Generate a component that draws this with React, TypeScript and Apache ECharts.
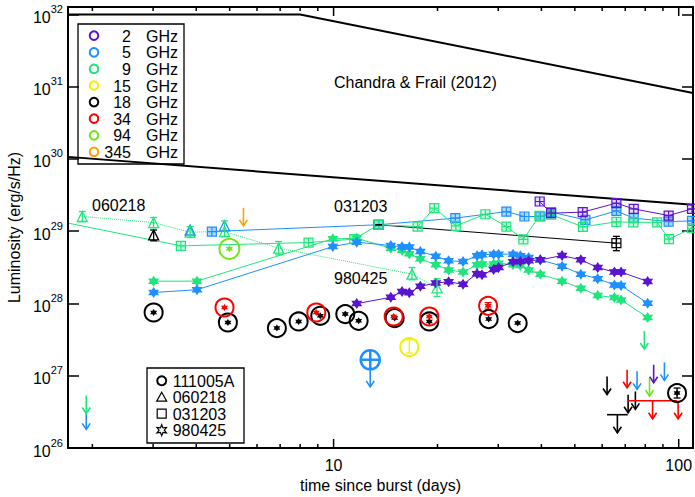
import { useEffect, useRef } from 'react';
import * as echarts from 'echarts';

const FONT = '"Liberation Sans", Arial, Helvetica, sans-serif';

// ---------- colours per frequency ----------
const freqLabels = ['2', '5', '9', '15', '18', '34', '94', '345'];
const freqColors = ['#5a14d0', '#1e90ff', '#1fe67c', '#f0f000', '#000000', '#ff0000', '#72e41a', '#ffa000'];
const [C2, C5, C9, C15, C18, C34, C94, C345] = freqColors;
const eventNames = ['111005A', '060218', '031203', '980425'];

// ---------- axes ----------
const X_MIN = 1.7, X_MAX = 110, Y_MIN = 1e26, Y_MAX = 1.27e32;
const xMajorTicks = [10, 100];
const xMinorTicks = [2, 3, 4, 5, 6, 7, 8, 9, 20, 30, 40, 50, 60, 70, 80, 90];
const xLabels = [10, 100];
const yTicks = [1e26, 1e27, 1e28, 1e29, 1e30, 1e31, 1e32];

// ---------- Chandra & Frail (2012) envelope ----------
const cfUpperT = [1.7, 8.0, 110];
const cfUpperL = [1e32, 1e32, 8.2e30];
const cfLowerT = [1.7, 110];
const cfLowerL = [1.07e30, 2.32e29];

// ---------- 980425 (stars) ----------
const t980425 = [3.01, 4.02, 9.95, 11.67, 14.65, 15.79, 16.57, 17.84, 19.78, 21.54, 23.72, 26.04, 26.92, 29.09, 30.07, 33.11, 34.77, 36.74, 39.72, 45.92, 52.06, 58.25, 65.11, 68.08, 81.29];
const L980425_5GHz = [1.42e28, 1.55e28, 6.14e28, 7.07e28, 6.34e28, 6.08e28, 6.03e28, 5.24e28, 4.52e28, 3.90e28, 3.81e28, 4.57e28, 4.72e28, 4.82e28, 4.82e28, 4.82e28, 4.57e28, 4.33e28, 4.02e28, 3.29e28, 2.55e28, 2.20e28, 1.81e28, 1.77e28, 1.01e28];
const L980425_9GHz = [2.04e28, 2.04e28, 7.85e28, 7.97e28, 5.84e28, 5.41e28, 4.87e28, 4.15e28, 3.43e28, 2.92e28, 2.72e28, 3.43e28, 3.51e28, 3.53e28, 3.62e28, 3.43e28, 3.35e28, 2.92e28, 2.55e28, 2.04e28, 1.63e28, 1.29e28, 1.21e28, 1.12e28, 6.40e27];
const t980425_2GHz = [11.67, 14.65, 15.79, 16.57, 17.84, 19.78, 21.54, 23.72, 26.04, 26.92, 29.09, 30.07, 33.11, 34.77, 36.74, 39.72, 45.92, 52.06, 58.25, 65.11, 68.08, 81.29];
const L980425_2GHz = [9.97e27, 1.22e28, 1.47e28, 1.41e28, 1.73e28, 1.92e28, 2.00e28, 1.84e28, 2.59e28, 2.49e28, 2.95e28, 3.14e28, 3.77e28, 3.81e28, 3.90e28, 4.02e28, 4.61e28, 4.02e28, 3.15e28, 2.72e28, 2.72e28, 2.02e28];

// ---------- 031203 (squares) ----------
const t031203_5GHz = [4.44, 13.5, 22.53, 31.67, 35.72, 39.72, 42.67, 53.65, 65.98, 74.07, 93.5, 109.3];
const L031203_5GHz = [9.91e28, 1.23e29, 1.52e29, 1.87e29, 1.60e29, 1.60e29, 1.84e29, 1.44e29, 1.91e29, 1.52e29, 1.36e29, 1.39e29];
// first 9 GHz value is where the line enters the plot at its left edge
const t031203_9GHz = [1.71, 3.61, 8.46, 11.48, 13.5, 17.52, 19.58, 22.61, 27.53, 31.67, 35.48, 39.47, 42.67, 52.77, 65.98, 73.91, 86.6, 93.7, 109.3];
const L031203_9GHz = [1.29e29, 6.28e28, 6.98e28, 7.78e28, 1.23e29, 1.16e29, 2.09e29, 1.19e29, 1.72e29, 1.16e29, 7.73e28, 1.63e29, 1.70e29, 1.15e29, 1.35e29, 1.33e29, 1.33e29, 7.78e28, 1.10e29];
const t031203_2GHz = [39.55, 42.67, 52.7, 65.98, 74.07, 93.5, 109.3];
const L031203_2GHz = [2.58e29, 1.78e29, 1.84e29, 2.45e29, 2.04e29, 1.65e29, 2.04e29];
const t031203_18GHz = [13.5, 65.98];
const L031203_18GHz = [1.23e29, 6.84e28];
const err031203_18GHz_lo = [1.23e29, 5.38e28];
const err031203_18GHz_hi = [1.23e29, 8.5e28];

// ---------- 060218 (triangles) ----------
const t060218_9GHz = [1.87, 3.01, 3.84, 4.83, 6.93, 16.87, 19.94];
const L060218_9GHz = [1.60e29, 1.32e29, 9.72e28, 9.91e28, 5.84e28, 2.55e28, 1.65e28];
const err060218_9GHz_lo = [1.36e29, 1.12e29, 8.18e28, 8.45e28, 4.72e28, 2.13e28, 1.25e28];
const err060218_9GHz_hi = [1.87e29, 1.55e29, 1.16e29, 1.39e29, 7.2e28, 3.15e28, 2.2e28];
const t060218_5GHz = [3.84, 4.83];
const L060218_5GHz = [1.04e29, 1.19e29];
const t060218_18GHz = [3.01];
const L060218_18GHz = [8.91e28];
const err060218_18GHz_lo = [7.37e28];
const err060218_18GHz_hi = [1.04e29];

// ---------- 111005A (circles) ----------
const t111005A_18GHz = [3.01, 4.94, 6.85, 7.92, 9.15, 10.81, 11.82, 15.03, 18.94, 28.14, 34.15, 98.9];
const L111005A_18GHz = [7.51e27, 5.46e27, 4.57e27, 5.64e27, 6.76e27, 7.13e27, 5.76e27, 6.28e27, 5.64e27, 6.09e27, 5.36e27, 5.76e26];
const t111005A_34GHz = [4.83, 8.91, 14.93, 18.94, 28.03];
const L111005A_34GHz = [8.80e27, 7.51e27, 6.61e27, 6.61e27, 9.29e27];
const t111005A_15GHz = [16.57];
const L111005A_15GHz = [2.49e27];
const t111005A_94GHz = [4.99];
const L111005A_94GHz = [5.71e28];
const t111005A_5GHz_lim = [12.77];
const L111005A_5GHz_lim = [1.66e27];
const err111005A_t = [28.03, 16.57, 98.9];
const err111005A_lo = [8.37e27, 2.06e27, 4.92e26];
const err111005A_hi = [1.03e28, 3.15e27, 6.76e26];

// ---------- upper limits ----------
const lim2GHz_t = [84.6], lim2GHz_L = [1.42e27];
const lim5GHz_t = [1.92, 75.74, 90.9], lim5GHz_L = [3.21e26, 1.15e27, 1.53e27];
const lim9GHz_t = [1.92, 79.5], lim9GHz_L = [5.34e26, 4.17e27];
const lim18GHz_t = [62.0, 71.35, 74.9], lim18GHz_L = [9.78e26, 5.46e26, 6.07e26];
const lim34GHz_t = [70.87, 99.6], lim34GHz_L = [1.21e27, 4.51e26];
const lim94GHz_t = [82.3], lim94GHz_L = [9.29e26];
const lim345GHz_t = [5.48], lim345GHz_L = [2.11e29];
const range18GHz_t1 = [62.0], range18GHz_t2 = [71.15], range18GHz_L = [2.89e26];
const range34GHz_t1 = [71.35], range34GHz_t2 = [98.9], range34GHz_L = [4.51e26];

// ---------- helpers ----------
const zip = (t: number[], L: number[]) => t.map((v, i) => [v, L[i]]);
const STAR = 'path://M0,-10L2.89,-5L8.66,-5L5.77,0L8.66,5L2.89,5L0,10L-2.89,5L-8.66,5L-5.77,0L-8.66,-5L-2.89,-5Z';
const SQUARE = 'path://M0,0H10V10H0Z M5,0V10 M0,5H10';
const CIRCLE_CROSS = 'path://M-9,0A9,9 0 1 0 9,0A9,9 0 1 0 -9,0Z M-9,0H9 M0,-9V9';

function hexA(c: string, a: number) {
  const n = parseInt(c.slice(1), 16);
  return `rgba(${(n >> 16) & 255},${(n >> 8) & 255},${n & 255},${a})`;
}

const ARROW_LEN = 18;
function arrowShapes(x: number, y: number, len: number, c: string) {
  return [
    { type: 'line', shape: { x1: x, y1: y, x2: x, y2: y + len }, style: { stroke: c, lineWidth: 1.6 } },
    { type: 'polyline', shape: { points: [[x - 4, y + len - 6], [x, y + len], [x + 4, y + len - 6]] }, style: { stroke: c, fill: 'none', lineWidth: 1.6 } },
  ];
}

function arrowSeries(t: number[], L: number[], color: string, len = ARROW_LEN) {
  return {
    type: 'custom', coordinateSystem: 'cartesian2d', silent: true, z: 5,
    itemStyle: { color },
    data: zip(t, L),
    renderItem: (_p: any, api: any) => {
      const p = api.coord([api.value(0), api.value(1)]);
      return { type: 'group', children: arrowShapes(p[0], p[1], len, color) };
    },
  };
}

function rangeSeries(t1: number[], t2: number[], L: number[], color: string) {
  return {
    type: 'custom', coordinateSystem: 'cartesian2d', silent: true, z: 5,
    itemStyle: { color },
    data: t1.map((v, i) => [v, t2[i], L[i]]),
    renderItem: (_p: any, api: any) => {
      const a = api.value(0), b = api.value(1), l = api.value(2);
      const p1 = api.coord([a, l]);
      const p2 = api.coord([b, l]);
      const pm = api.coord([Math.sqrt(a * b), l]);
      return {
        type: 'group',
        children: [
          { type: 'line', shape: { x1: p1[0], y1: p1[1], x2: p2[0], y2: p2[1] }, style: { stroke: color, lineWidth: 1.6 } },
          ...arrowShapes(pm[0], pm[1], ARROW_LEN, color),
        ],
      };
    },
  };
}

function errSeries(t: number[], lo: number[], hi: number[], color: string) {
  return {
    type: 'custom', coordinateSystem: 'cartesian2d', silent: true, z: 4,
    itemStyle: { color },
    data: t.map((v, i) => [v, lo[i], hi[i]]),
    renderItem: (_p: any, api: any) => {
      const x = api.value(0);
      const p1 = api.coord([x, api.value(1)]);
      const p2 = api.coord([x, api.value(2)]);
      const w = 3.5;
      const st = { stroke: color, lineWidth: 1.3 };
      return {
        type: 'group',
        children: [
          { type: 'line', shape: { x1: p1[0], y1: p1[1], x2: p2[0], y2: p2[1] }, style: st },
          { type: 'line', shape: { x1: p1[0] - w, y1: p1[1], x2: p1[0] + w, y2: p1[1] }, style: st },
          { type: 'line', shape: { x1: p2[0] - w, y1: p2[1], x2: p2[0] + w, y2: p2[1] }, style: st },
        ],
      };
    },
  };
}

function lineSeries(t: number[], L: number[], color: string, symbol: string, size: number, opts: any = {}) {
  const data: any[] = zip(t, L);
  if (opts.hideFirst) data[0] = { value: data[0], symbol: 'none' };
  return {
    type: 'line', data, symbol, symbolSize: size, clip: true, z: 3,
    lineStyle: { color, width: 1, type: opts.dash || 'solid' },
    itemStyle: { opacity: 1, ...(opts.itemStyle || { color }) },
    emphasis: { disabled: true },
  };
}

function scatterSeries(t: number[], L: number[], symbol: string, size: number, itemStyle: any, z = 6) {
  return {
    type: 'scatter', data: zip(t, L), symbol, symbolSize: size, itemStyle: { opacity: 1, ...itemStyle }, z,
    emphasis: { disabled: true },
  };
}

const hollow = (c: string, w = 1.3, fillA = 0) => ({ color: fillA ? hexA(c, fillA) : 'rgba(0,0,0,0)', borderColor: c, borderWidth: w });

function buildOption(): any {
  const txt = (text: string, x: number, y: number, align = 'left') => ({
    type: 'text', x, y, silent: true,
    style: { text, fill: '#000', fontSize: 16, fontFamily: FONT, align, verticalAlign: 'middle' },
  });

  const legend1: any[] = [
    { type: 'rect', shape: { x: 78, y: 24, width: 106, height: 140 }, style: { fill: '#fff', stroke: '#000', lineWidth: 1.3 } },
  ];
  freqLabels.forEach((f, i) => {
    const y = 35.7 + i * 16.6;
    legend1.push({ type: 'circle', shape: { cx: 94, cy: y, r: 4.3 }, style: { fill: 'none', stroke: freqColors[i], lineWidth: 2 } });
    legend1.push(txt(f, 131, y + 0.5, 'right'));
    legend1.push(txt('GHz', 146, y + 0.5));
  });

  const legend2: any[] = [
    { type: 'rect', shape: { x: 147, y: 368, width: 97, height: 75 }, style: { fill: '#fff', stroke: '#000', lineWidth: 1.3 } },
  ];
  const sx = 161.7;
  const ly = (i: number) => 380.7 + i * 16.5;
  legend2.push({ type: 'circle', shape: { cx: sx, cy: ly(0), r: 4.5 }, style: { fill: 'none', stroke: '#000', lineWidth: 2 } });
  legend2.push({ type: 'polygon', shape: { points: [[sx, ly(1) - 5], [sx + 5, ly(1) + 4], [sx - 5, ly(1) + 4]] }, style: { fill: 'none', stroke: '#000', lineWidth: 1.2 } });
  legend2.push({ type: 'rect', shape: { x: sx - 4.5, y: ly(2) - 4.5, width: 9, height: 9 }, style: { fill: 'none', stroke: '#000', lineWidth: 1.2 } });
  const starPts: number[][] = [];
  for (let k = 0; k < 12; k++) {
    const r = k % 2 === 0 ? 5.5 : 2.6;
    const a = (Math.PI / 6) * k - Math.PI / 2;
    starPts.push([sx + r * Math.cos(a), ly(3) + r * Math.sin(a)]);
  }
  legend2.push({ type: 'polygon', shape: { points: starPts }, style: { fill: 'none', stroke: '#000', lineWidth: 1.2 } });
  eventNames.forEach((n, i) => legend2.push(txt(n, 172.7, ly(i) + 0.5)));

  const annotations = [
    txt('Chandra & Frail (2012)', 334, 82),
    txt('060218', 92, 205),
    txt('031203', 334, 206),
    txt('980425', 334, 278),
  ];

  const tickSeries = {
    type: 'custom', coordinateSystem: 'cartesian2d', silent: true, z: 10, clip: false,
    data: [...xMinorTicks.map((v) => [v, 4]), ...xMajorTicks.map((v) => [v, 9])],
    renderItem: (params: any, api: any) => {
      const x = api.coord([api.value(0), Y_MIN])[0];
      const len = api.value(1);
      const cs = params.coordSys;
      const yb = cs.y + cs.height;
      const yt = cs.y;
      const st = { stroke: '#000', lineWidth: 1.5 };
      return {
        type: 'group',
        children: [
          { type: 'line', shape: { x1: x, y1: yb, x2: x, y2: yb - len }, style: st },
          { type: 'line', shape: { x1: x, y1: yt, x2: x, y2: yt + len }, style: st },
        ],
      };
    },
  };

  const axisLine = { show: true, onZero: false, lineStyle: { color: '#000', width: 2 } };
  const yAxisCommon = {
    type: 'log', min: Y_MIN, max: Y_MAX, logBase: 10,
    axisLine,
    splitLine: { show: false },
    axisTick: { show: true, inside: true, length: 11, customValues: yTicks, lineStyle: { color: '#000', width: 1.5 } },
  };

  return {
    animation: false,
    backgroundColor: '#fff',
    textStyle: { fontFamily: FONT },
    grid: { left: 68, right: 2, top: 7, bottom: 49, containLabel: false, outerBoundsMode: 'none' },
    xAxis: [
      {
        type: 'log', min: X_MIN, max: X_MAX, logBase: 10, position: 'bottom',
        axisLine, axisTick: { show: false }, splitLine: { show: false }, minorTick: { show: false },
        axisLabel: { customValues: xLabels, margin: 9, fontSize: 16, color: '#000', fontFamily: FONT, formatter: (v: number) => String(Math.round(v)) },
        name: 'time since burst (days)', nameLocation: 'middle', nameGap: 26,
        nameTextStyle: { fontSize: 16, color: '#000', fontFamily: FONT },
      },
      {
        type: 'log', min: X_MIN, max: X_MAX, logBase: 10, position: 'top',
        axisLine, axisTick: { show: false }, axisLabel: { show: false }, splitLine: { show: false },
      },
    ],
    yAxis: [
      {
        ...yAxisCommon, position: 'left',
        axisLabel: {
          customValues: yTicks, margin: 5, color: '#000',
          formatter: (v: number) => `{b|10}{s|${Math.round(Math.log10(v))}}`,
          rich: {
            b: { fontSize: 16, fontFamily: FONT, color: '#000', lineHeight: 22, verticalAlign: 'bottom' },
            s: { fontSize: 11, fontFamily: FONT, color: '#000', lineHeight: 11, verticalAlign: 'top' },
          },
        },
        name: 'Luminosity (erg/s/Hz)', nameLocation: 'middle', nameGap: 45,
        nameTextStyle: { fontSize: 16, color: '#000', fontFamily: FONT },
      },
      { ...yAxisCommon, position: 'right', axisLabel: { show: false } },
    ],
    graphic: [...annotations, ...legend1, ...legend2],
    series: [
      // Chandra & Frail envelope
      { type: 'line', data: zip(cfUpperT, cfUpperL), symbol: 'none', lineStyle: { color: '#000', width: 2 }, z: 2, clip: true, silent: true },
      { type: 'line', data: zip(cfLowerT, cfLowerL), symbol: 'none', lineStyle: { color: '#000', width: 2 }, z: 2, clip: true, silent: true },

      // 060218
      lineSeries(t060218_9GHz, L060218_9GHz, C9, 'triangle', [10, 10], { dash: 'dotted', itemStyle: hollow(C9, 1.3) }),
      errSeries(t060218_9GHz, err060218_9GHz_lo, err060218_9GHz_hi, C9),
      scatterSeries(t060218_5GHz, L060218_5GHz, 'triangle', [10, 10], hollow(C5, 1.3), 3),
      scatterSeries(t060218_18GHz, L060218_18GHz, 'triangle', [10, 10], hollow(C18, 1.3), 3),
      errSeries(t060218_18GHz, err060218_18GHz_lo, err060218_18GHz_hi, C18),

      // 031203
      lineSeries(t031203_18GHz, L031203_18GHz, C18, SQUARE, 9, { itemStyle: hollow(C18, 1.2) }),
      errSeries(t031203_18GHz, err031203_18GHz_lo, err031203_18GHz_hi, C18),
      lineSeries(t031203_5GHz, L031203_5GHz, C5, SQUARE, 9, { itemStyle: hollow(C5, 1.2, 0.35) }),
      lineSeries(t031203_9GHz, L031203_9GHz, C9, SQUARE, 9, { itemStyle: hollow(C9, 1.2, 0.2), hideFirst: true }),
      lineSeries(t031203_2GHz, L031203_2GHz, C2, SQUARE, 9, { itemStyle: hollow(C2, 1.2, 0.15) }),

      // 980425
      lineSeries(t980425, L980425_9GHz, C9, STAR, 11),
      lineSeries(t980425, L980425_5GHz, C5, STAR, 11),
      lineSeries(t980425_2GHz, L980425_2GHz, C2, STAR, 11),

      // 111005A
      scatterSeries(t111005A_18GHz, L111005A_18GHz, 'circle', 18, hollow(C18, 2), 6),
      scatterSeries(t111005A_18GHz, L111005A_18GHz, STAR, 7, { color: C18 }, 7),
      scatterSeries(t111005A_34GHz, L111005A_34GHz, 'circle', 18, hollow(C34, 2), 6),
      scatterSeries(t111005A_34GHz, L111005A_34GHz, STAR, 7, { color: C34 }, 7),
      scatterSeries(t111005A_15GHz, L111005A_15GHz, 'circle', 18, hollow(C15, 2), 6),
      scatterSeries(t111005A_94GHz, L111005A_94GHz, 'circle', 20, hollow(C94, 2), 6),
      scatterSeries(t111005A_94GHz, L111005A_94GHz, STAR, 7, { color: C94 }, 7),
      scatterSeries(t111005A_5GHz_lim, L111005A_5GHz_lim, CIRCLE_CROSS, 19, hollow(C5, 2.5), 6),
      arrowSeries(t111005A_5GHz_lim, L111005A_5GHz_lim, C5, 27),
      errSeries(err111005A_t.slice(0, 1), err111005A_lo.slice(0, 1), err111005A_hi.slice(0, 1), C34),
      errSeries(err111005A_t.slice(1, 2), err111005A_lo.slice(1, 2), err111005A_hi.slice(1, 2), C15),
      errSeries(err111005A_t.slice(2, 3), err111005A_lo.slice(2, 3), err111005A_hi.slice(2, 3), C18),

      // upper limits
      arrowSeries(lim2GHz_t, lim2GHz_L, C2),
      arrowSeries(lim5GHz_t, lim5GHz_L, C5),
      arrowSeries(lim9GHz_t, lim9GHz_L, C9),
      arrowSeries(lim18GHz_t, lim18GHz_L, C18),
      arrowSeries(lim34GHz_t, lim34GHz_L, C34),
      arrowSeries(lim94GHz_t, lim94GHz_L, C94),
      arrowSeries(lim345GHz_t, lim345GHz_L, C345),
      rangeSeries(range18GHz_t1, range18GHz_t2, range18GHz_L, C18),
      rangeSeries(range34GHz_t1, range34GHz_t2, range34GHz_L, C34),

      tickSeries,
    ],
  };
}

export default function App() {
  const ref = useRef<HTMLDivElement>(null);
  useEffect(() => {
    if (!ref.current) return;
    const chart = echarts.init(ref.current, null, { renderer: 'svg' });
    chart.setOption(buildOption());
    return () => chart.dispose();
  }, []);
  return (
    <div
      ref={ref}
      style={{ position: 'fixed', left: 0, top: 0, width: 695, height: 497, background: '#fff' }}
    />
  );
}
